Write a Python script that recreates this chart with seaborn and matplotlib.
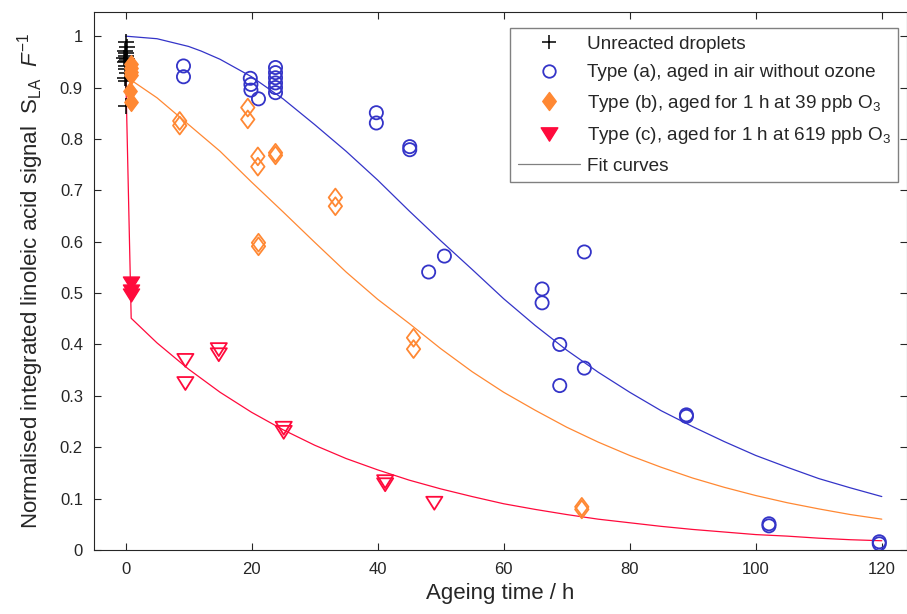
import matplotlib
matplotlib.use('Agg')
import matplotlib.pyplot as plt
from matplotlib.lines import Line2D
from matplotlib.path import Path
import seaborn as sns

# ---------------- data ----------------
# unreacted droplets (black +)
unreacted_t = [0.0, 0.2, -0.1, 0.1, 0.0, -0.2, 0.2, 0.0, -0.1, 0.1, 0.0, 0.2, -0.1, 0.0, 0.1]
unreacted_y = [0.988, 0.978, 0.971, 0.968, 0.962, 0.958, 0.955, 0.952, 0.949,
               0.942, 0.936, 0.929, 0.919, 0.912, 0.864]

# type (a): aged in air without ozone (open blue circles)
a_t = [9.2, 9.2, 19.8, 19.9, 19.9, 21.1, 23.8, 23.8, 23.8, 23.8, 23.8, 23.8,
       39.8, 39.8, 45.1, 45.1, 48.1, 50.6, 66.1, 66.1, 68.9, 68.9, 72.8, 72.8,
       89.0, 89.0, 102.1, 102.1, 119.6, 119.6]
a_y = [0.942, 0.921, 0.918, 0.906, 0.895, 0.878, 0.939, 0.929, 0.919, 0.909, 0.900, 0.890,
       0.851, 0.831, 0.785, 0.779, 0.541, 0.572, 0.508, 0.481, 0.400, 0.320, 0.580, 0.354,
       0.263, 0.260, 0.047, 0.051, 0.016, 0.012]

# type (b): 1 h at 39 ppb O3 (orange diamonds; filled right after exposure)
b0_t = [0.8, 0.8, 0.9, 0.8, 0.7, 0.8]
b0_y = [0.945, 0.938, 0.930, 0.925, 0.893, 0.872]
b_t = [8.6, 8.6, 19.4, 19.4, 21.0, 21.0, 23.8, 23.8, 21.1, 21.1, 33.3, 33.3,
       45.7, 45.7, 72.4, 72.4]
b_y = [0.835, 0.826, 0.861, 0.838, 0.766, 0.746, 0.773, 0.768, 0.598, 0.591,
       0.686, 0.669, 0.413, 0.391, 0.084, 0.079]

# type (c): 1 h at 619 ppb O3 (red triangles; filled right after exposure)
c0_t = [0.8, 0.8, 0.8]
c0_y = [0.520, 0.505, 0.497]
c_t = [9.5, 9.5, 14.8, 14.8, 25.1, 25.1, 41.2, 41.2, 49.0]
c_y = [0.369, 0.324, 0.390, 0.380, 0.237, 0.229, 0.133, 0.127, 0.091]

# fit curves
fit_a_t = [0, 5, 10, 12, 15, 20, 25, 30, 35, 40, 45, 50, 55, 60, 65, 70, 75, 80,
           85, 90, 95, 100, 105, 110, 115, 120]
fit_a_y = [1.0, 0.995, 0.980, 0.971, 0.955, 0.921, 0.878, 0.828, 0.776, 0.720, 0.660,
           0.602, 0.546, 0.489, 0.437, 0.389, 0.346, 0.307, 0.271, 0.240, 0.211,
           0.184, 0.161, 0.139, 0.121, 0.104]
fit_b_t = [0, 0.7, 5, 10, 15, 20, 25, 30, 35, 40, 45, 50, 55, 60, 65, 70, 75, 80,
           85, 90, 95, 100, 105, 110, 115, 120]
fit_b_y = [0.94, 0.916, 0.880, 0.828, 0.776, 0.716, 0.658, 0.599, 0.541, 0.488, 0.441,
           0.392, 0.347, 0.307, 0.272, 0.239, 0.210, 0.184, 0.161, 0.140, 0.122,
           0.106, 0.092, 0.080, 0.069, 0.060]
fit_c_t = [0, 0.9, 5, 10, 15, 20, 25, 30, 35, 40, 45, 50, 55, 60, 65, 70, 75, 80,
           85, 90, 95, 100, 105, 110, 115, 120]
fit_c_y = [0.95, 0.451, 0.403, 0.352, 0.307, 0.268, 0.234, 0.204, 0.178, 0.156, 0.136,
           0.119, 0.104, 0.090, 0.079, 0.069, 0.060, 0.053, 0.046, 0.040, 0.035,
           0.030, 0.027, 0.023, 0.020, 0.018]

ytick_vals = [0, 0.1, 0.2, 0.3, 0.4, 0.5, 0.6, 0.7, 0.8, 0.9, 1]
ytick_labels = ['0', '0.1', '0.2', '0.3', '0.4', '0.5', '0.6', '0.7', '0.8', '0.9', '1']
xtick_vals = [0, 20, 40, 60, 80, 100, 120]

BLUE = '#3434c8'
ORANGE = '#ff8833'
RED = '#ff0a3c'
AXC = '#262626'

sns.set_style('ticks')
plt.rcParams['font.family'] = ['Liberation Sans', 'DejaVu Sans']
plt.rcParams['mathtext.fontset'] = 'custom'
plt.rcParams['mathtext.rm'] = 'Liberation Sans'
plt.rcParams['mathtext.it'] = 'Liberation Sans:italic'

fig = plt.figure(figsize=(9.07, 6.14), dpi=100)
ax = fig.add_axes([94 / 907, 64 / 614, 813 / 907, 538 / 614])

# closed marker shapes (MATLAB-like wide triangle and diamond)
tri = Path([(-1, 0.8), (1, 0.8), (0, -0.8), (-1, 0.8)], closed=True)
dia = Path([(0, 1), (0.75, 0), (0, -1), (-0.75, 0), (0, 1)], closed=True)

# fit curves
for tt, yy, col in [(fit_a_t, fit_a_y, BLUE), (fit_b_t, fit_b_y, ORANGE), (fit_c_t, fit_c_y, RED)]:
    sns.lineplot(x=tt, y=yy, color=col, linewidth=0.9, sort=False, estimator=None, ax=ax)

# markers
sns.scatterplot(x=unreacted_t, y=unreacted_y, marker='+', color='black', s=120,
                linewidth=1.1, ax=ax, zorder=3)
sns.scatterplot(x=a_t, y=a_y, marker='o', color=BLUE, facecolor='none', edgecolor=BLUE,
                s=90, linewidth=1.3, ax=ax, zorder=3)
sns.scatterplot(x=b_t, y=b_y, marker=dia, color=ORANGE, facecolor='none', edgecolor=ORANGE,
                s=165, linewidth=1.3, ax=ax, zorder=3)
sns.scatterplot(x=b0_t, y=b0_y, marker=dia, color=ORANGE, edgecolor=ORANGE,
                s=165, linewidth=1.0, ax=ax, zorder=3)
sns.scatterplot(x=c_t, y=c_y, marker=tri, color=RED, facecolor='none', edgecolor=RED,
                s=135, linewidth=1.3, ax=ax, zorder=3)
sns.scatterplot(x=c0_t, y=c0_y, marker=tri, color=RED, edgecolor=RED,
                s=135, linewidth=1.0, ax=ax, zorder=3)

ax.set_xlim(-5, 124)
ax.set_ylim(0, 1.047)
ax.set_xticks(xtick_vals)
ax.set_yticks(ytick_vals)
ax.set_yticklabels(ytick_labels)
ax.tick_params(direction='in', length=5, width=0.8, color=AXC, labelsize=12,
               labelcolor=AXC, top=True, right=True)
ax.tick_params(axis='x', pad=9)
ax.tick_params(axis='y', pad=8)
for sp in ax.spines.values():
    sp.set_color(AXC)
    sp.set_linewidth(0.8)

ax.set_xlabel('Ageing time / h', fontsize=16, color=AXC, labelpad=4)
ax.set_ylabel(r'Normalised integrated linoleic acid signal  $\mathrm{S}_{\mathrm{LA}}$  $F^{-1}$',
              fontsize=16, color=AXC, labelpad=10)

handles = [
    Line2D([], [], linestyle='none', marker='+', color='black', markersize=10, markeredgewidth=1.1),
    Line2D([], [], linestyle='none', marker='o', markerfacecolor='none', markeredgecolor=BLUE,
           markersize=9, markeredgewidth=1.3),
    Line2D([], [], linestyle='none', marker=dia, color=ORANGE, markersize=13),
    Line2D([], [], linestyle='none', marker=tri, color=RED, markersize=12),
    Line2D([], [], color='#808080', linewidth=0.9),
]
labels = ['Unreacted droplets',
          'Type (a), aged in air without ozone',
          r'Type (b), aged for 1 h at 39 ppb O$_3$',
          r'Type (c), aged for 1 h at 619 ppb O$_3$',
          'Fit curves']
leg = ax.legend(handles, labels, loc='upper right', bbox_to_anchor=(0.989, 0.970),
                borderaxespad=0, prop={'size': 13.6}, frameon=True, fancybox=False,
                framealpha=1, edgecolor='#808080', handlelength=3.3,
                handletextpad=0.35, labelspacing=0.6, borderpad=0.4)
leg.get_frame().set_linewidth(1.0)

fig.savefig('out.png', dpi=100)
